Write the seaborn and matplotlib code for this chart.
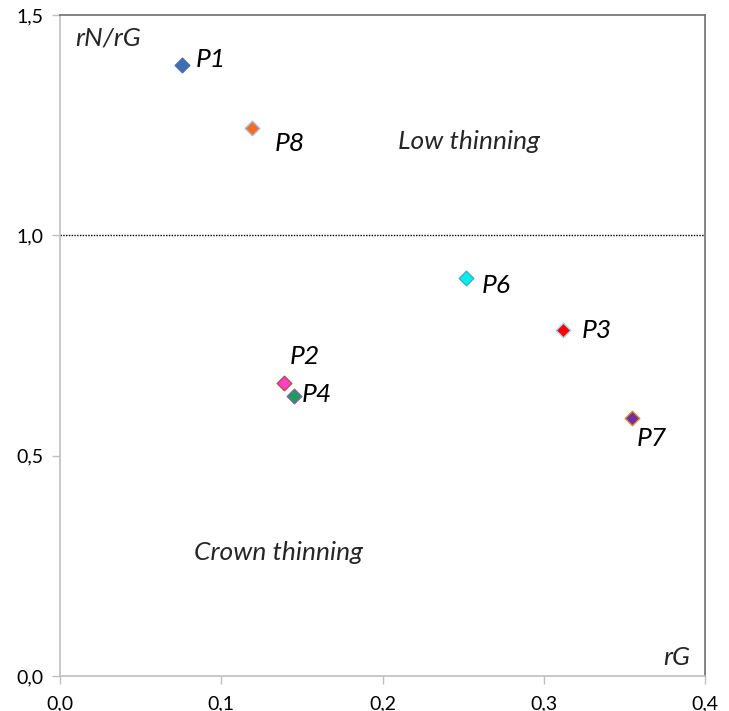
import matplotlib
matplotlib.use("Agg")
import matplotlib.pyplot as plt
from matplotlib.ticker import FuncFormatter
import seaborn as sns
import pandas as pd

# Data
plots = ["P1", "P8", "P6", "P3", "P2", "P4", "P7"]
rG = [0.0757, 0.119, 0.2518, 0.312, 0.139, 0.145, 0.355]
rN_rG = [1.386, 1.243, 0.903, 0.785, 0.665, 0.635, 0.585]
fill_colors = ["#3F6EB3", "#F26D1D", "#00F0F0", "#FF0000", "#FF3FC8", "#209A5E", "#7030A0"]
edge_colors = ["#3F6EB3", "#A9BCE0", "#3BB0C0", "#9ED8E8", "#B0504A", "#8064A2", "#E08A3A"]
label_x = [0.0843, 0.1333, 0.2617, 0.3237, 0.1426, 0.150, 0.3578]
label_y = [1.398, 1.209, 0.887, 0.785, 0.726, 0.638, 0.540]

df = pd.DataFrame({"plot": plots, "rG": rG, "rN_rG": rN_rG})

sns.set_style("white")
plt.rcParams["font.family"] = ["Lato", "DejaVu Sans"]

fig = plt.figure(figsize=(7.29, 7.11), dpi=100)
ax = fig.add_axes([60 / 729, 35 / 711, 645 / 729, 661 / 711])

for i, row in df.iterrows():
    sns.scatterplot(data=df.iloc[[i]], x="rG", y="rN_rG", ax=ax, marker="D",
                    s=55, color=fill_colors[i], edgecolor=edge_colors[i],
                    linewidth=1, zorder=3, legend=False)

ax.axhline(1.0, color="black", linestyle=(0, (1, 1)), linewidth=1, zorder=2)

FS = 19
for name, lx, ly in zip(plots, label_x, label_y):
    ax.text(lx, ly, name, fontsize=FS, style="italic", va="center", ha="left",
            color="black")

ax.text(0.0093, 1.448, "rN/rG", fontsize=FS, style="italic", va="center", ha="left")
ax.text(0.3907, 0.041, "rG", fontsize=FS, style="italic", va="center", ha="right")
ax.text(0.2096, 1.214, "Low thinning", fontsize=FS, style="italic", va="center", ha="left")
ax.text(0.0831, 0.281, "Crown thinning", fontsize=FS, style="italic", va="center", ha="left")

ax.set_xlim(0, 0.4)
ax.set_ylim(0, 1.5)
ax.set_xticks([0, 0.1, 0.2, 0.3, 0.4])
ax.set_yticks([0, 0.5, 1.0, 1.5])
fmt = FuncFormatter(lambda v, p: f"{v:.1f}".replace(".", ","))
ax.xaxis.set_major_formatter(fmt)
ax.yaxis.set_major_formatter(fmt)
ax.set_xlabel("")
ax.set_ylabel("")

ax.tick_params(axis="both", which="major", direction="out", length=6, width=1,
               color="#BFBFBF", labelsize=14, labelcolor="black", pad=6,
               bottom=True, left=True)
ax.tick_params(axis="x", pad=8)

for side in ["left", "bottom"]:
    ax.spines[side].set_color("#BFBFBF")
    ax.spines[side].set_linewidth(1.2)
for side in ["top", "right"]:
    ax.spines[side].set_color("#6F6F6F")
    ax.spines[side].set_linewidth(1.2)
    ax.spines[side].set_visible(True)

fig.savefig("out.png", dpi=100)
